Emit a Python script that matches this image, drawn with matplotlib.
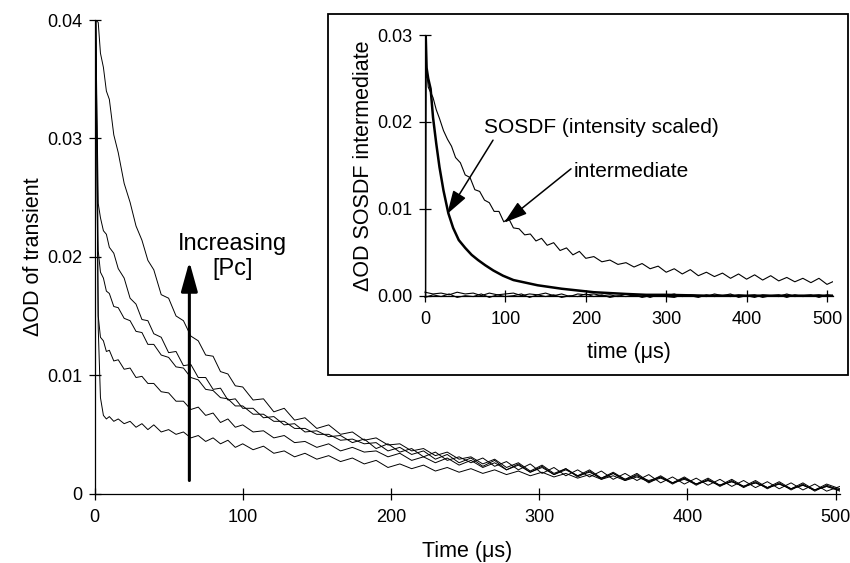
# Transient decay traces with SOSDF / intermediate inset
import matplotlib
matplotlib.use("Agg")
import matplotlib.pyplot as plt
from matplotlib.patches import Rectangle

plt.rcParams["font.family"] = ["Liberation Sans", "DejaVu Sans"]

# ---- main panel data (time in us, delta OD) ----
main_t = [0, 0.8, 2.5, 4, 6, 8, 10, 13, 16, 20,
          24, 28, 32, 36, 40, 45, 50, 55, 60, 65,
          70, 75, 80, 85, 90, 95, 100, 107, 114, 121,
          128, 135, 142, 150, 158, 166, 174, 182, 190, 198,
          206, 214, 222, 230, 238, 246, 254, 262, 270, 278,
          286, 294, 302, 310, 318, 326, 334, 342, 350, 358,
          366, 374, 382, 390, 398, 406, 414, 422, 430, 438,
          446, 454, 462, 470, 478, 486, 494, 503]

trace_1 = [0.0, 0.0400, 0.0398, 0.0372, 0.0360, 0.0340, 0.0333, 0.0303, 0.0288, 0.0262,
           0.0246, 0.0226, 0.0214, 0.0197, 0.0189, 0.0168, 0.0165, 0.0150, 0.0146, 0.0133,
           0.0129, 0.0117, 0.0116, 0.0103, 0.0101, 0.0091, 0.0090, 0.0079, 0.0080, 0.0069,
           0.0072, 0.0062, 0.0064, 0.0055, 0.0058, 0.0050, 0.0052, 0.0045, 0.0047, 0.0041,
           0.0042, 0.0036, 0.0038, 0.0032, 0.0035, 0.0029, 0.0031, 0.0025, 0.0029, 0.0022,
           0.0026, 0.0019, 0.0024, 0.0017, 0.0021, 0.0015, 0.0020, 0.0013, 0.0018, 0.0012,
           0.0017, 0.0010, 0.0015, 0.0009, 0.0014, 0.0008, 0.0013, 0.0007, 0.0012, 0.0006,
           0.0011, 0.0005, 0.0010, 0.0004, 0.0009, 0.0003, 0.0008, 0.0004]
trace_2 = [0.0, 0.0400, 0.0245, 0.0233, 0.0222, 0.0219, 0.0208, 0.0203, 0.0190, 0.0182,
           0.0165, 0.0160, 0.0147, 0.0146, 0.0135, 0.0132, 0.0119, 0.0120, 0.0108, 0.0109,
           0.0098, 0.0098, 0.0088, 0.0089, 0.0079, 0.0080, 0.0072, 0.0072, 0.0064, 0.0065,
           0.0058, 0.0059, 0.0052, 0.0053, 0.0048, 0.0049, 0.0043, 0.0046, 0.0038, 0.0042,
           0.0035, 0.0038, 0.0031, 0.0035, 0.0028, 0.0031, 0.0026, 0.0030, 0.0023, 0.0027,
           0.0020, 0.0025, 0.0017, 0.0022, 0.0015, 0.0020, 0.0014, 0.0019, 0.0012, 0.0017,
           0.0011, 0.0016, 0.0009, 0.0014, 0.0008, 0.0013, 0.0007, 0.0012, 0.0006, 0.0011,
           0.0005, 0.0010, 0.0004, 0.0009, 0.0003, 0.0008, 0.0002, 0.0006]
trace_3 = [0.0, 0.0400, 0.0205, 0.0187, 0.0182, 0.0171, 0.0169, 0.0158, 0.0157, 0.0148,
           0.0146, 0.0137, 0.0136, 0.0126, 0.0126, 0.0117, 0.0115, 0.0107, 0.0106, 0.0098,
           0.0096, 0.0088, 0.0087, 0.0081, 0.0080, 0.0074, 0.0074, 0.0067, 0.0067, 0.0061,
           0.0061, 0.0055, 0.0055, 0.0050, 0.0050, 0.0045, 0.0046, 0.0042, 0.0043, 0.0036,
           0.0039, 0.0033, 0.0036, 0.0029, 0.0033, 0.0026, 0.0030, 0.0023, 0.0028, 0.0020,
           0.0025, 0.0018, 0.0023, 0.0016, 0.0021, 0.0014, 0.0019, 0.0012, 0.0017, 0.0011,
           0.0016, 0.0009, 0.0014, 0.0008, 0.0013, 0.0007, 0.0012, 0.0006, 0.0011, 0.0005,
           0.0010, 0.0004, 0.0009, 0.0003, 0.0008, 0.0002, 0.0007, 0.0003]
trace_4 = [0.0, 0.0400, 0.0150, 0.0132, 0.0129, 0.0120, 0.0121, 0.0112, 0.0113, 0.0105,
           0.0106, 0.0098, 0.0099, 0.0093, 0.0093, 0.0086, 0.0085, 0.0078, 0.0078, 0.0071,
           0.0073, 0.0066, 0.0068, 0.0060, 0.0063, 0.0056, 0.0058, 0.0052, 0.0053, 0.0047,
           0.0049, 0.0043, 0.0044, 0.0039, 0.0042, 0.0036, 0.0039, 0.0035, 0.0036, 0.0031,
           0.0034, 0.0028, 0.0031, 0.0026, 0.0030, 0.0024, 0.0028, 0.0022, 0.0026, 0.0020,
           0.0024, 0.0018, 0.0022, 0.0016, 0.0020, 0.0015, 0.0018, 0.0013, 0.0017, 0.0012,
           0.0015, 0.0011, 0.0014, 0.0009, 0.0013, 0.0008, 0.0011, 0.0007, 0.0010, 0.0006,
           0.0009, 0.0005, 0.0008, 0.0004, 0.0007, 0.0003, 0.0006, 0.0002]
trace_5 = [0.0, 0.0400, 0.0140, 0.0081, 0.0066, 0.0063, 0.0065, 0.0061, 0.0063, 0.0059,
           0.0061, 0.0056, 0.0059, 0.0054, 0.0058, 0.0052, 0.0054, 0.0050, 0.0052, 0.0047,
           0.0049, 0.0044, 0.0047, 0.0042, 0.0045, 0.0039, 0.0042, 0.0037, 0.0040, 0.0034,
           0.0036, 0.0031, 0.0034, 0.0029, 0.0032, 0.0027, 0.0030, 0.0025, 0.0028, 0.0022,
           0.0025, 0.0021, 0.0024, 0.0019, 0.0022, 0.0018, 0.0021, 0.0017, 0.0020, 0.0016,
           0.0019, 0.0015, 0.0018, 0.0014, 0.0017, 0.0013, 0.0016, 0.0012, 0.0015, 0.0011,
           0.0014, 0.0010, 0.0013, 0.0009, 0.0012, 0.0008, 0.0011, 0.0007, 0.0010, 0.0006,
           0.0009, 0.0005, 0.0008, 0.0004, 0.0007, 0.0003, 0.0006, 0.0003]
main_traces = [trace_1, trace_2, trace_3, trace_4, trace_5]

main_xticks = [0, 100, 200, 300, 400, 500]
main_yticks = [0, 0.01, 0.02, 0.03, 0.04]
main_yticklabels = ["0", "0.01", "0.02", "0.03", "0.04"]

# ---- inset data ----
sosdf_t = [0, 0.8, 2, 4, 7, 10, 14, 18, 23, 29,
           35, 42, 50, 58, 66, 75, 85, 97, 110, 125,
           140, 155, 170, 190, 210, 230, 250, 275, 300, 350,
           400, 450, 508]
sosdf_v = [0.0, 0.0303, 0.0262, 0.0250, 0.0238, 0.0205, 0.0175, 0.0148, 0.0121, 0.0095,
           0.0078, 0.0064, 0.0055, 0.0047, 0.0041, 0.0035, 0.0029, 0.0023, 0.0018, 0.0015,
           0.0012, 0.0010, 0.0008, 0.0006, 0.0004, 0.0003, 0.0002, 0.0001, 0.0001, 0.0,
           0.0, 0.0, 0.0]

inter_t = [0, 0.8, 2, 4, 7, 10, 14, 18, 23, 28,
           33, 38, 44, 50, 56, 62, 68, 74, 80, 86,
           92, 98, 104, 110, 117, 124, 131, 138, 145, 152,
           160, 168, 176, 184, 192, 200, 210, 220, 230, 240,
           250, 260, 270, 280, 290, 300, 310, 320, 330, 340,
           350, 360, 370, 380, 390, 400, 410, 420, 430, 440,
           450, 460, 470, 480, 490, 500, 507]
inter_v = [0.0, 0.0280, 0.0262, 0.0240, 0.0234, 0.0228, 0.0214, 0.0204, 0.0190, 0.0180,
           0.0172, 0.0159, 0.0153, 0.0139, 0.0136, 0.0122, 0.0120, 0.0110, 0.0107, 0.0097,
           0.0097, 0.0085, 0.0089, 0.0078, 0.0077, 0.0070, 0.0071, 0.0063, 0.0066, 0.0058,
           0.0061, 0.0052, 0.0055, 0.0047, 0.0051, 0.0043, 0.0045, 0.0039, 0.0041, 0.0036,
           0.0038, 0.0033, 0.0037, 0.0031, 0.0034, 0.0027, 0.0031, 0.0025, 0.0030, 0.0023,
           0.0027, 0.0022, 0.0026, 0.0020, 0.0025, 0.0019, 0.0024, 0.0018, 0.0023, 0.0017,
           0.0021, 0.0016, 0.0020, 0.0015, 0.0020, 0.0013, 0.0016]

base_t = [0, 10, 20, 30, 40, 50, 60, 70, 80, 90,
          100, 110, 120, 130, 140, 150, 160, 170, 180, 190,
          200, 210, 220, 230, 240, 250, 260, 270, 280, 290,
          300, 310, 320, 330, 340, 350, 360, 370, 380, 390,
          400, 410, 420, 430, 440, 450, 460, 470, 480, 490,
          500, 507]
base_1 = [0.0004, 0.0002, 0.0003, 0.0001, 0.0004, 0.0002, 0.0003, 0.0000, 0.0003, 0.0001,
          0.0002, 0.0003, 0.0000, 0.0002, 0.0001, 0.0003, 0.0000, 0.0002, -0.0001, 0.0002,
          0.0001, 0.0002, 0.0000, 0.0001, -0.0001, 0.0002, 0.0000, 0.0001, -0.0002, 0.0001,
          0.0000, 0.0002, -0.0001, 0.0001, 0.0000, -0.0001, 0.0002, 0.0000, -0.0001, 0.0001,
          0.0000, -0.0002, 0.0001, 0.0000, -0.0001, 0.0002, -0.0001, 0.0000, 0.0001, -0.0002,
          0.0001, 0.0000]
base_2 = [-0.0002, 0.0001, -0.0001, 0.0002, -0.0002, 0.0000, -0.0001, 0.0002, -0.0002, 0.0001,
          -0.0001, 0.0000, 0.0002, -0.0002, 0.0001, -0.0001, 0.0001, -0.0002, 0.0000, -0.0001,
          0.0002, -0.0001, 0.0001, -0.0002, 0.0000, -0.0001, 0.0001, -0.0002, 0.0000, 0.0001,
          -0.0001, -0.0002, 0.0001, 0.0000, -0.0002, 0.0001, -0.0001, 0.0000, 0.0002, -0.0002,
          0.0000, 0.0001, -0.0002, 0.0000, 0.0001, -0.0002, 0.0001, -0.0001, 0.0000, 0.0001,
          -0.0001, 0.0000]

inset_xticks = [0, 100, 200, 300, 400, 500]
inset_yticks = [0.0, 0.01, 0.02, 0.03]
inset_yticklabels = ["0.00", "0.01", "0.02", "0.03"]


def style_axes(ax):
    """Only left/bottom spines, ticks crossing the axis line"""
    for side in ["top", "right"]:
        ax.spines[side].set_visible(False)
    for side in ["left", "bottom"]:
        ax.spines[side].set_linewidth(0.9)
    ax.tick_params(direction="inout", length=8, width=0.9,
                   labelsize=13, top=False, right=False)
    ax.tick_params(axis="x", pad=7)
    ax.tick_params(axis="y", pad=5)


fig = plt.figure(figsize=(8.5, 5.63), dpi=100)

# main panel
ax = fig.add_axes([0.1112, 0.1234, 0.877, 0.841])
for tr in main_traces:
    ax.plot(main_t, tr, color="black", lw=0.7)
ax.set_xlim(0, 503)
ax.set_ylim(0, 0.04)
ax.set_xticks(main_xticks)
ax.set_yticks(main_yticks)
ax.set_yticklabels(main_yticklabels)
style_axes(ax)
ax.set_xlabel("Time (\u03bcs)", fontsize=15.5, labelpad=11)
ax.set_ylabel("\u0394OD of transient", fontsize=15.5, labelpad=2)

ax.annotate("", xy=(64, 0.0196), xytext=(64, 0.0011),
            arrowprops=dict(arrowstyle="-|>,head_length=0.9,head_width=0.25",
                            mutation_scale=20, lw=2.2, color="black",
                            shrinkA=0, shrinkB=0))
ax.text(93, 0.0200, "Increasing\n[Pc]", fontsize=17, ha="center",
        va="center", linespacing=1.2)

# frame around the inset
frame = Rectangle((328 / 850, 1 - 375 / 563), 520 / 850, 361 / 563,
                  transform=fig.transFigure, facecolor="white",
                  edgecolor="black", lw=1.3, zorder=1)
fig.add_artist(frame)

# inset panel
ins = fig.add_axes([0.5, 0.4748, 0.4805, 0.463], zorder=2)
ins.patch.set_alpha(0)
ins.plot(base_t, base_1, color="black", lw=0.8, clip_on=False)
ins.plot(base_t, base_2, color="black", lw=0.8, clip_on=False)
ins.plot(inter_t, inter_v, color="black", lw=0.8)
ins.plot(sosdf_t, sosdf_v, color="black", lw=1.8)
ins.set_xlim(0, 508)
ins.set_ylim(0, 0.03)
ins.set_xticks(inset_xticks)
ins.set_yticks(inset_yticks)
ins.set_yticklabels(inset_yticklabels)
style_axes(ins)
ins.set_xlabel("time (\u03bcs)", fontsize=15.5, labelpad=10)
ins.set_ylabel("\u0394OD SOSDF intermediate", fontsize=15.5, labelpad=2)

arrow_kw = dict(arrowstyle="-|>,head_length=0.8,head_width=0.25",
                mutation_scale=18, lw=1.1, color="black",
                shrinkA=0, shrinkB=0)
ins.annotate("", xy=(27.6, 0.0094), xytext=(84.6, 0.0179), arrowprops=arrow_kw)
ins.annotate("", xy=(98.3, 0.0084), xytext=(181.6, 0.0146), arrowprops=arrow_kw)
ins.text(219, 0.0193, "SOSDF (intensity scaled)", fontsize=15,
         ha="center", va="center")
ins.text(257, 0.0143, "intermediate", fontsize=15, ha="center", va="center")

fig.savefig("out.png", dpi=100)
